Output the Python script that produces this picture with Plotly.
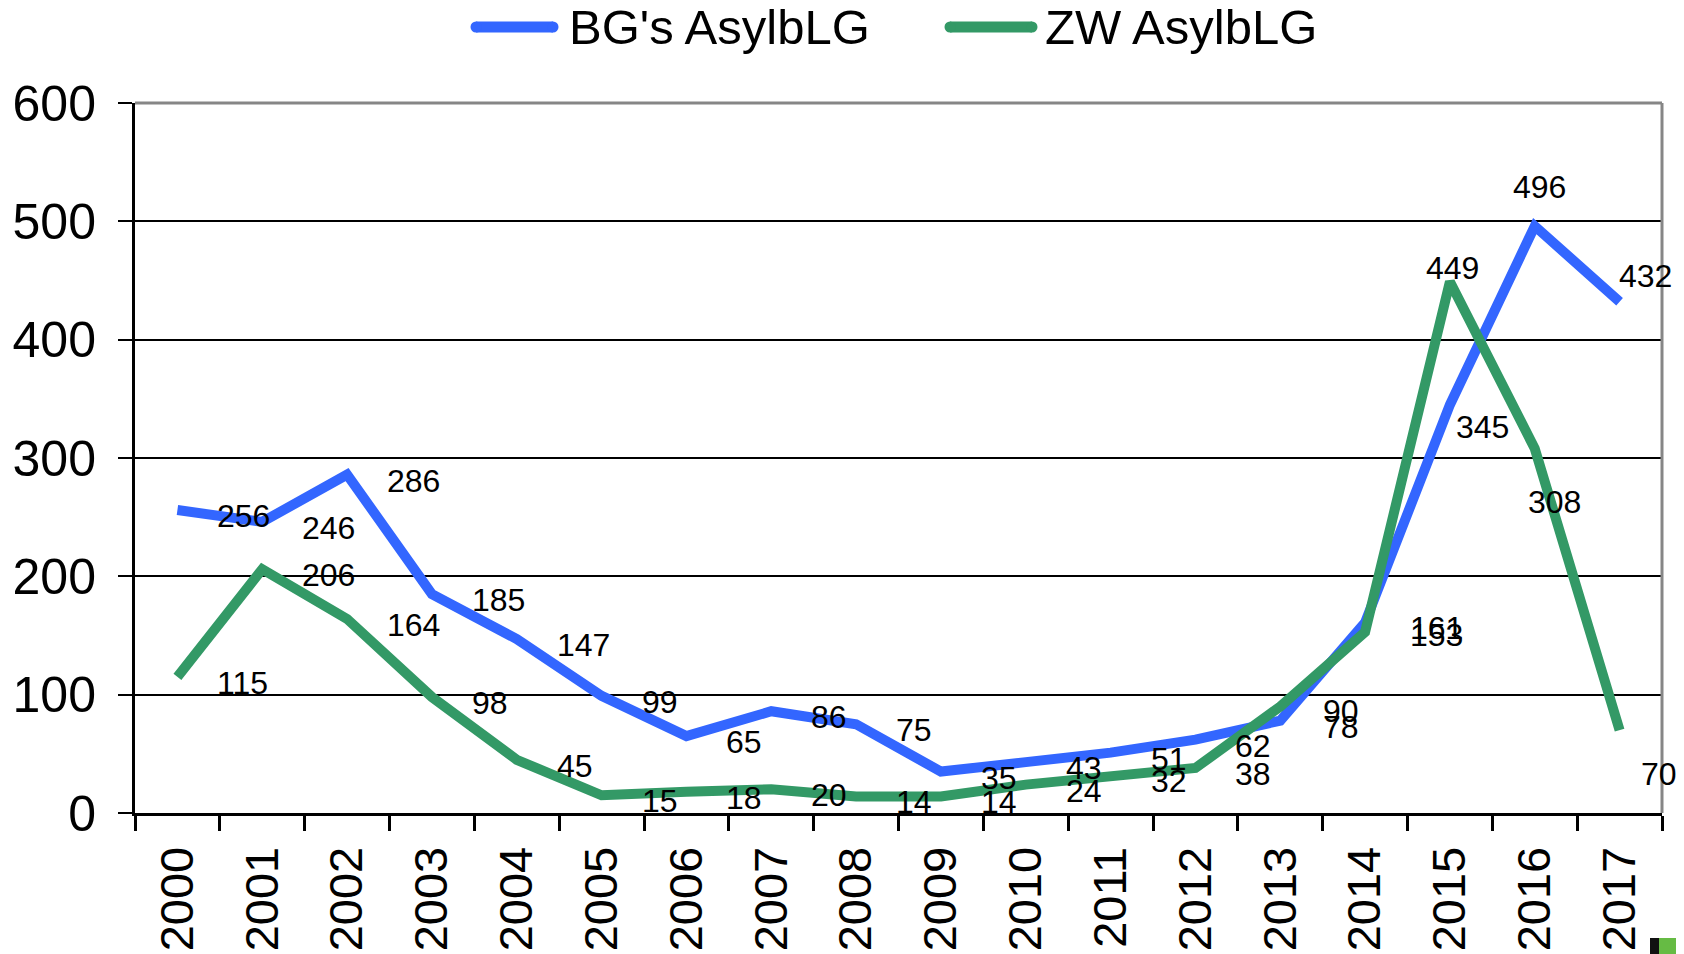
import plotly.graph_objects as go

years = [str(y) for y in range(2000, 2018)]
bg_values = [256, 246, 286, 185, 147, 99, 65, 86, 75, 35, 43, 51, 62, 78, 161, 345, 496, 432]
zw_values = [115, 206, 164, 98, 45, 15, 18, 20, 14, 14, 24, 32, 38, 90, 153, 449, 308, 70]
series_names = ["BG's AsylbLG", "ZW AsylbLG"]
series_colors = ["#3366FF", "#339966"]

OFF = 8  # browser default body margin
W, H = 1684 - OFF, 954 - OFF
L, R, T, B = 135, 1662, 103, 813  # plot area in page pixels
FONT = "Liberation Sans, Arial, sans-serif"

def px_x(p):
    return (p - L) / (R - L)

def px_y(p):
    return (B - p) / (B - T)

# label placement (xanchor, xshift, yshift) -- default plus overrides
default_pos = ("left", 38, -6)
overrides = {
    (0, "2013"): ("left", 41, -6),
    (1, "2013"): ("left", 41, -4),
    (0, "2014"): ("left", 43, -6),
    (1, "2014"): ("left", 43, -3),
    (0, "2015"): ("left", 4, -22),
    (1, "2015"): ("center", 3, 14),
    (0, "2016"): ("center", 5, 39),
    (1, "2016"): ("center", 20, -53),
    (0, "2017"): ("left", -3, 26),
    (1, "2017"): ("left", 19, -44),
}

fig = go.Figure()
all_values = [bg_values, zw_values]
for i, vals in enumerate(all_values):
    fig.add_trace(go.Scatter(
        x=years, y=vals, mode="lines", name=series_names[i],
        line=dict(color=series_colors[i], width=10),
        showlegend=False, hoverinfo="x+y",
    ))

annotations = []
for i, vals in enumerate(all_values):
    for k, (yr, v) in enumerate(zip(years, vals)):
        xa, xs, ys = overrides.get((i, yr), default_pos)
        annotations.append(dict(
            x=k, y=v, xref="x", yref="y", text=str(v), showarrow=False,
            xanchor=xa, yanchor="middle", xshift=xs, yshift=ys,
            font=dict(family=FONT, size=32, color="black"),
        ))

# legend (manual, to match long line samples with round caps)
legend_items = [(476, 553, 567), (950, 1032, 1043)]
LEG_Y = 27
CAP = 5.5
shapes = []
for i, (x0, x1, tx) in enumerate(legend_items):
    shapes.append(dict(type="line", xref="paper", yref="paper",
                       x0=px_x(x0), x1=px_x(x1), y0=px_y(LEG_Y), y1=px_y(LEG_Y),
                       line=dict(color=series_colors[i], width=11)))
    for cx in (x0, x1):
        shapes.append(dict(type="circle", xref="paper", yref="paper",
                           x0=px_x(cx - CAP), x1=px_x(cx + CAP),
                           y0=px_y(LEG_Y + CAP), y1=px_y(LEG_Y - CAP),
                           fillcolor=series_colors[i], line=dict(width=0)))
    annotations.append(dict(x=px_x(tx), y=px_y(LEG_Y), xref="paper", yref="paper",
                            text=series_names[i], showarrow=False,
                            xanchor="left", yanchor="middle",
                            font=dict(family=FONT, size=49, color="black")))

# gray top and right frame
shapes.append(dict(type="line", xref="paper", yref="paper", x0=0, x1=1, y0=1, y1=1,
                   line=dict(color="#868686", width=3), layer="above"))
shapes.append(dict(type="line", xref="paper", yref="paper", x0=1, x1=1, y0=0, y1=1,
                   line=dict(color="#868686", width=3), layer="above"))
# small cropped artifact at bottom right
shapes.append(dict(type="rect", xref="paper", yref="paper",
                   x0=px_x(1650), x1=px_x(1659), y0=px_y(954), y1=px_y(938),
                   fillcolor="#111111", line=dict(width=0)))
shapes.append(dict(type="rect", xref="paper", yref="paper",
                   x0=px_x(1659), x1=px_x(1684), y0=px_y(954), y1=px_y(938),
                   fillcolor="#66BB44", line=dict(width=0)))

fig.update_layout(
    width=W, height=H, autosize=False,
    margin=dict(l=L - OFF, r=W + OFF - R, t=T - OFF, b=H + OFF - B, pad=0, autoexpand=False),
    paper_bgcolor="white", plot_bgcolor="white",
    font=dict(family=FONT, color="black"),
    annotations=annotations, shapes=shapes,
    showlegend=False,
    xaxis=dict(
        type="category", categoryorder="array", categoryarray=years,
        range=[-0.5, len(years) - 0.5],
        showline=True, linecolor="black", linewidth=3,
        ticks="outside", tickson="boundaries", ticklen=15, tickwidth=3, tickcolor="black",
        tickangle=-90, tickfont=dict(family=FONT, size=47, color="black"),
        ticklabelstandoff=12, automargin=False,
        showgrid=False, zeroline=False,
    ),
    yaxis=dict(
        range=[0, 600], dtick=100, tick0=0,
        showline=True, linecolor="black", linewidth=3,
        ticks="outside", ticklen=14, tickwidth=2, tickcolor="black",
        tickfont=dict(family=FONT, size=50, color="black"),
        ticklabelstandoff=12, automargin=False,
        showgrid=True, gridcolor="black", gridwidth=2, zeroline=False,
    ),
)

fig.write_html("out.html")
